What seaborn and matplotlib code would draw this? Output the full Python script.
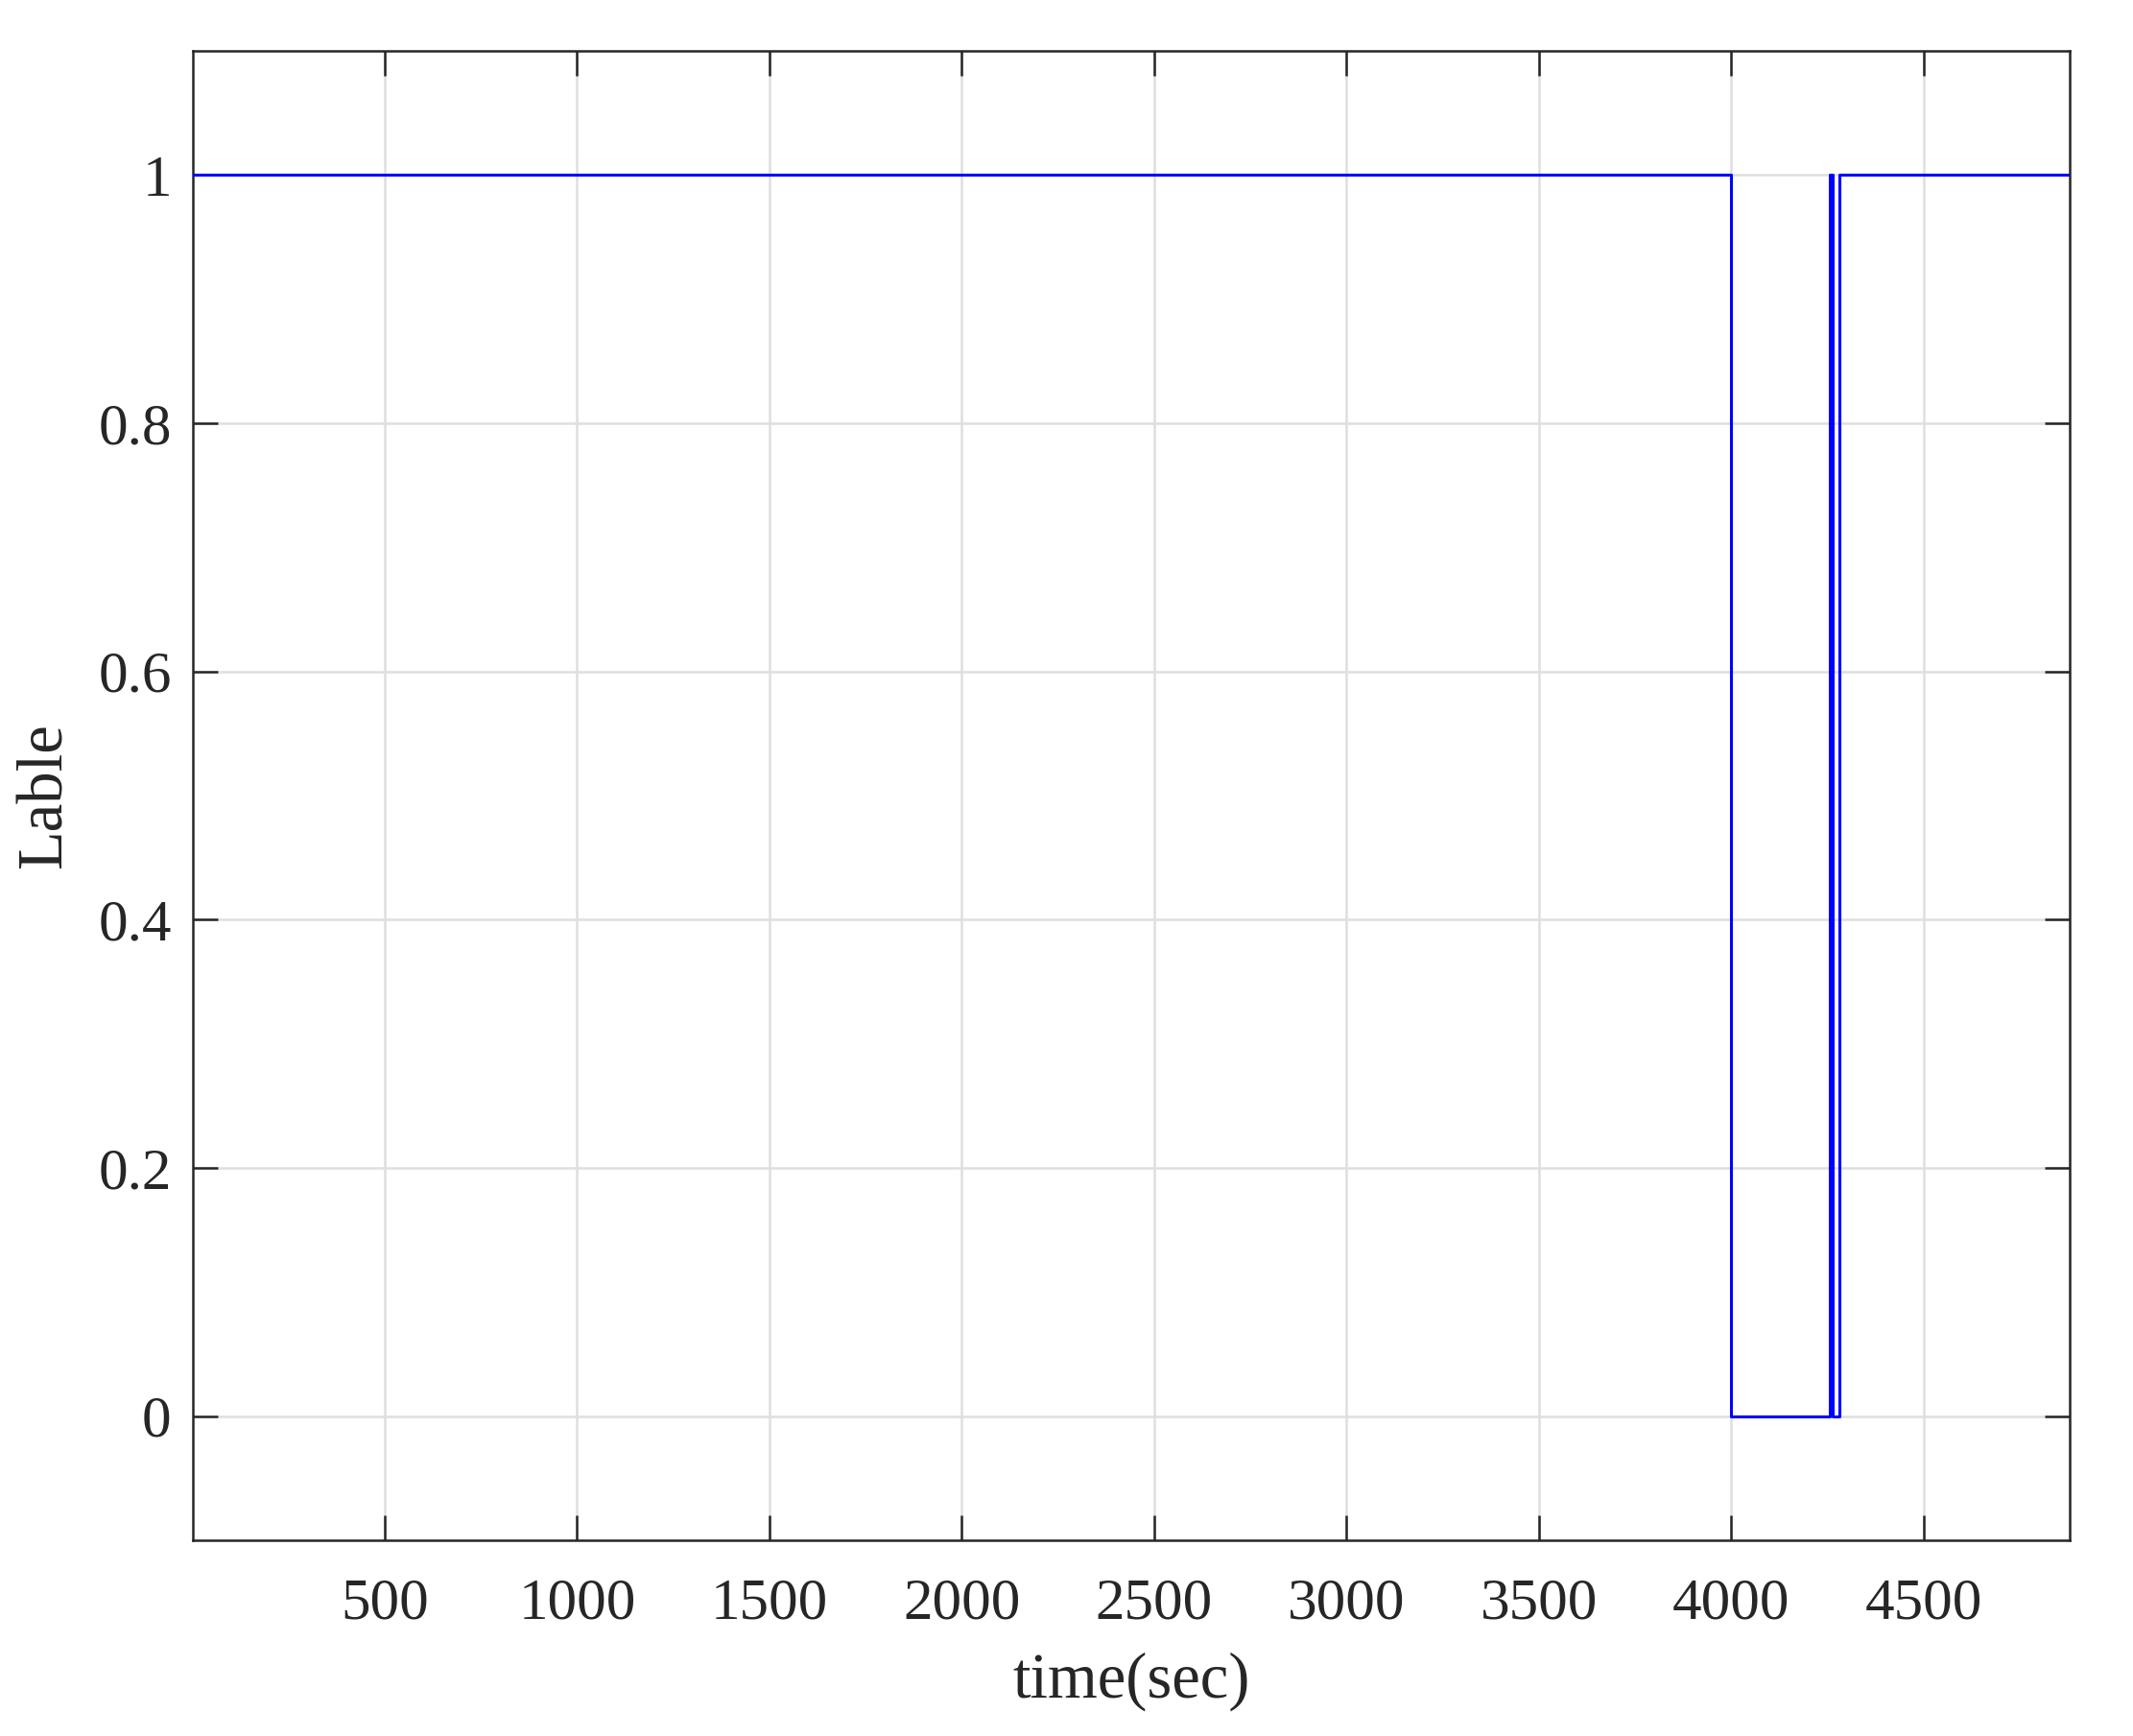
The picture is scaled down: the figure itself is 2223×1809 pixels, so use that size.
import numpy as np
import pandas as pd
import matplotlib
matplotlib.use("Agg")
import matplotlib.pyplot as plt
import seaborn as sns

# change points of the label signal (sec) and the value held from each one
change_time = [1, 4000, 4257, 4264, 4281, 4880]
label_value = [1, 0, 1, 0, 1, 1]

x_ticks = [500, 1000, 1500, 2000, 2500, 3000, 3500, 4000, 4500]
y_ticks = [0, 0.2, 0.4, 0.6, 0.8, 1]
y_tick_labels = ["0", "0.2", "0.4", "0.6", "0.8", "1"]

sns.set_theme(style="ticks")
plt.rcParams["font.family"] = ["Liberation Serif", "DejaVu Serif"]
plt.rcParams["mathtext.fontset"] = "stix"

df = pd.DataFrame({"time": change_time, "label": label_value})

fig = plt.figure(figsize=(11.115, 9.045), dpi=200)
ax = fig.add_axes([0.0904, 0.1128, 0.8799, 0.8579])

sns.lineplot(data=df, x="time", y="label", ax=ax, color="#0000ff",
             linewidth=1.1, drawstyle="steps-post", sort=True, zorder=3)

ax.set_xlim(1, 4880)
ax.set_ylim(-0.1, 1.1)
ax.set_xticks(x_ticks)
ax.set_xticklabels([str(t) for t in x_ticks])
ax.set_yticks(y_ticks)
ax.set_yticklabels(y_tick_labels)

ax.grid(True, color="#dfdfdf", linewidth=0.9, zorder=0)
ax.set_axisbelow(True)

for side in ["top", "right", "bottom", "left"]:
    ax.spines[side].set_visible(True)
    ax.spines[side].set_color("#262626")
    ax.spines[side].set_linewidth(0.9)

ax.tick_params(axis="both", direction="in", length=9.5, width=0.9,
               colors="#262626", labelsize=22, top=True, right=True)
ax.tick_params(axis="x", pad=14)
ax.tick_params(axis="y", pad=8)

ax.set_xlabel("time(sec)", fontsize=24, color="#262626", labelpad=8)
ax.set_ylabel("Lable", fontsize=24, color="#262626", labelpad=9)

fig.savefig("out.png", dpi=200, facecolor="white")
